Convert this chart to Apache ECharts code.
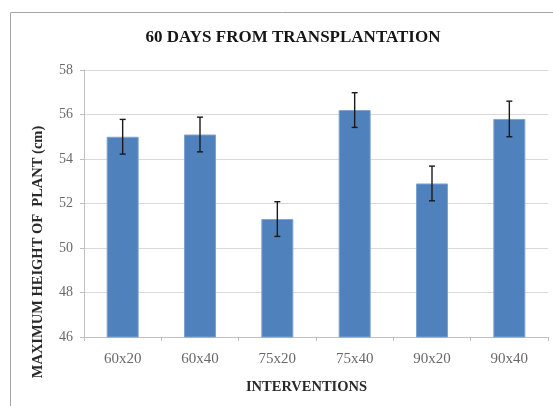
<!DOCTYPE html>
<html>
<head>
<meta charset="utf-8">
<script src="https://cdn.jsdelivr.net/npm/echarts@6/dist/echarts.min.js"></script>
<style>
  html, body { margin: 0; padding: 0; background: #fff; }
  #chart { width: 553px; height: 406px; }
</style>
</head>
<body>
<div id="chart"></div>
<script>
// Plant height 60 days after transplanting, per spacing intervention
const categories = ['60x20', '60x40', '75x20', '75x40', '90x20', '90x40'];
const heights = [55.0, 55.1, 51.3, 56.2, 52.9, 55.8];
const errors = [0.78, 0.78, 0.78, 0.78, 0.78, 0.8];
const yTicks = [46, 48, 50, 52, 54, 56, 58];

const serif = '"Liberation Serif", "DejaVu Serif", serif';
const chart = echarts.init(document.getElementById('chart'));

const errorData = categories.map((c, i) => [i, heights[i] - errors[i], heights[i] + errors[i]]);

chart.setOption({
  animation: false,
  title: {
    text: '60 DAYS FROM TRANSPLANTATION',
    left: 288, top: 24, textAlign: 'center',
    textStyle: { fontFamily: serif, fontWeight: 'bold', fontSize: 17, color: '#161616' }
  },
  graphic: [{
    type: 'rect', shape: { x: 10.5, y: 12.5, width: 560, height: 420 },
    style: { fill: 'none', stroke: '#a6a6a6', lineWidth: 1 }, z: -1
  }, {
    type: 'text', x: 38, y: 252, rotation: Math.PI / 2,
    style: {
      text: 'MAXIMUM HEIGHT OF  PLANT (cm)', align: 'center', verticalAlign: 'middle',
      font: 'bold 14.5px ' + serif, fill: '#2a2a2a'
    }
  }, {
    type: 'text', x: 306.5, y: 387,
    style: {
      text: 'INTERVENTIONS', align: 'center', verticalAlign: 'middle',
      font: 'bold 14.5px ' + serif, fill: '#2a2a2a'
    }
  }],
  grid: { left: 84, right: 5, top: 70, bottom: 69 },
  xAxis: {
    type: 'category', data: categories,
    axisLine: { lineStyle: { color: '#bfbfbf' } },
    axisTick: { show: true, length: 4, lineStyle: { color: '#bfbfbf' } },
    axisLabel: { fontFamily: serif, fontSize: 15, color: '#6a6a6a', margin: 15 }
  },
  yAxis: {
    type: 'value', min: yTicks[0], max: yTicks[yTicks.length - 1], interval: 2,
    axisLine: { show: true, lineStyle: { color: '#bfbfbf' } },
    axisTick: { show: true, length: 4, lineStyle: { color: '#bfbfbf' } },
    axisLabel: { fontFamily: serif, fontSize: 14, color: '#6a6a6a', margin: 11 },
    splitLine: { lineStyle: { color: '#d9d9d9' } }
  },
  series: [{
    type: 'bar', data: heights, barWidth: 32,
    itemStyle: { color: '#4f81bd', borderColor: '#7fa3d0', borderWidth: 1 }
  }, {
    type: 'custom', data: errorData, z: 10,
    renderItem: function (params, api) {
      const x = api.value(0);
      const lo = api.coord([x, api.value(1)]);
      const hi = api.coord([x, api.value(2)]);
      const cap = 3;
      const style = { stroke: '#1a1a1a', lineWidth: 1.4 };
      return {
        type: 'group',
        children: [
          { type: 'line', shape: { x1: lo[0], y1: lo[1], x2: hi[0], y2: hi[1] }, style },
          { type: 'line', shape: { x1: hi[0] - cap, y1: hi[1], x2: hi[0] + cap, y2: hi[1] }, style },
          { type: 'line', shape: { x1: lo[0] - cap, y1: lo[1], x2: lo[0] + cap, y2: lo[1] }, style }
        ]
      };
    }
  }]
});
</script>
</body>
</html>
